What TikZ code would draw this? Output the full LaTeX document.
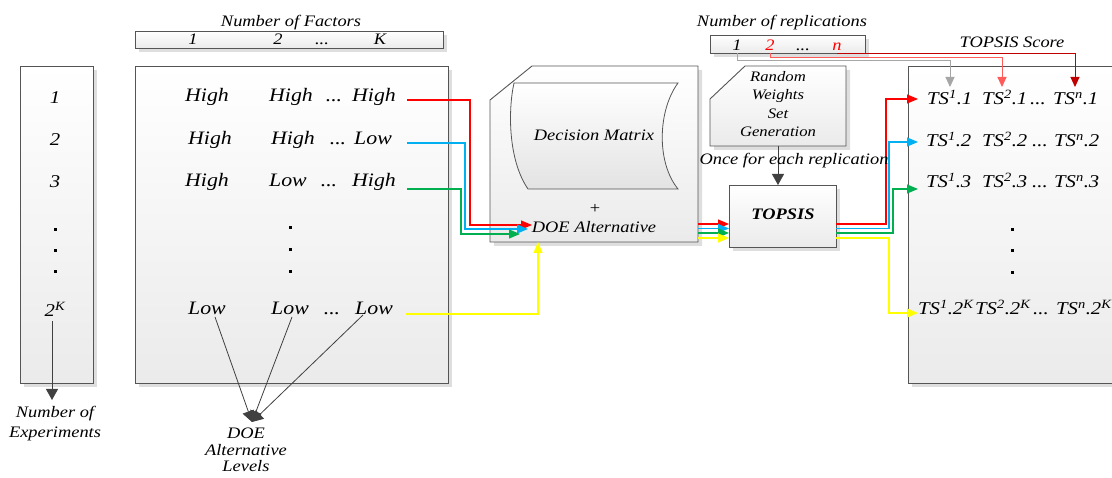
\documentclass[tikz,border=0pt]{standalone}
\usepackage{fontspec}
\setmainfont{Liberation Serif}[FakeStretch=1.15]
\usetikzlibrary{arrows.meta,shadows}
\definecolor{flowred}{HTML}{FF0000}
\definecolor{flowblue}{HTML}{00B0F0}
\definecolor{flowgreen}{HTML}{00B050}
\definecolor{flowyellow}{HTML}{FFFF00}
\definecolor{repone}{HTML}{A6A6A6}
\definecolor{reptwo}{HTML}{FF5B5B}
\definecolor{repn}{HTML}{C00000}
\definecolor{numred}{HTML}{FF0000}
\definecolor{edgegray}{HTML}{555555}
\definecolor{arrowgray}{HTML}{404040}

\newcommand\TSx[2]{TS\textsuperscript{#1}.#2}

\tikzset{
  panel/.style={draw=edgegray, line width=0.9pt, top color=white, bottom color=black!8,
    drop shadow={shadow xshift=4pt, shadow yshift=-4pt, fill=black!13, opacity=1}},
  frame/.style={inner sep=0pt, outer sep=0pt},
  txtA/.style={font=\fontsize{16}{19}\selectfont\itshape, inner sep=0pt},
  txtB/.style={font=\fontsize{19}{22}\selectfont\itshape, inner sep=0pt, anchor=base},
  txtC/.style={font=\fontsize{18}{21}\selectfont\itshape, inner sep=0pt, anchor=base west},
  txtD/.style={font=\fontsize{14.5}{18.5}\selectfont\itshape, inner sep=0pt, align=center},
  dotmark/.style={fill=black, inner sep=0pt, minimum size=3pt},
  flow/.style={line width=1.1pt, -{Triangle[length=11pt,width=9pt]}},
  reparrow/.style={line width=1pt, -{Triangle[length=10pt,width=9pt]}},
  darkarrow/.style={draw=arrowgray, line width=0.8pt, -{Triangle[length=11pt,width=12pt]}},
}

\begin{document}
\begin{tikzpicture}[x=1pt,y=-1pt]
\useasboundingbox (0,0) rectangle (1112,478);
\clip (0,0) rectangle (1112,478);

% ---------- panels ----------
\node[panel, frame, minimum width=73pt, minimum height=317pt] (expcol) at (56.5,224.5) {};
\node[panel, frame, minimum width=308pt, minimum height=17pt] (facthdr) at (289,39.5) {};
\node[panel, frame, minimum width=313pt, minimum height=317pt] (levels) at (291.5,224.5) {};

% decision matrix block with a cut corner
\node[frame, minimum width=208pt, minimum height=176pt] (dec) at (594,154) {};
\path[panel] (dec.south west) -- ([yshift=-34pt]dec.north west) -- ([xshift=42pt]dec.north west)
  -- (dec.north east) -- (dec.south east) -- cycle;
\path[draw=edgegray, line width=0.8pt, top color=white, bottom color=black!11]
  (514,83) -- (678,83) .. controls (658,110) and (656,162) .. (678,189)
  -- (528,189) .. controls (508,160) and (508,110) .. (514,83) -- cycle;

% random weights block with a cut corner
\node[frame, minimum width=136pt, minimum height=80pt] (rw) at (778,106) {};
\path[panel] (rw.south west) -- ([yshift=-33pt]rw.north west) -- ([xshift=35pt]rw.north west)
  -- (rw.north east) -- (rw.south east) -- cycle;

\node[panel, frame, minimum width=155pt, minimum height=18pt] (rephdr) at (787.5,44) {};
\node[panel, frame, minimum width=107pt, minimum height=62pt] (topsis) at (782.5,216) {};
\node[panel, frame, minimum width=220pt, minimum height=317pt] (scores) at (1018,224.5) {};

% ---------- texts ----------
\node[txtA, anchor=base] (facttitle) at (291,27) {Number of Factors};
\node[txtA, anchor=base] (f1) at (193,45) {1};
\node[txtA, anchor=base] (f2) at (278,45) {2};
\node[txtA, anchor=base] (fd) at (322,45) {...};
\node[txtA, anchor=base] (fk) at (380,45) {K};

\node[txtB, font=\fontsize{18}{21}\selectfont\itshape] (e1) at (55,104) {1};
\node[txtB, font=\fontsize{18}{21}\selectfont\itshape] (e2) at (55,146) {2};
\node[txtB, font=\fontsize{18}{21}\selectfont\itshape] (e3) at (55,188) {3};
\node[dotmark] (ed1) at (55,230) {};
\node[dotmark] (ed2) at (55,251) {};
\node[dotmark] (ed3) at (55,272) {};
\node[txtB, font=\fontsize{18}{21}\selectfont\itshape] (ek) at (55,317) {2\textsuperscript{K}};
\node[txtA, align=center, anchor=north, font=\fontsize{16}{20}\selectfont\itshape] (nexp) at (55,406) {Number of\\Experiments};

\node[txtB] (r1a) at (207,102) {High};
\node[txtB] (r1b) at (291,102) {High};
\node[txtB] (r1c) at (334,102) {...};
\node[txtB] (r1d) at (374,102) {High};
\node[txtB] (r2a) at (210,145) {High};
\node[txtB] (r2b) at (293,145) {High};
\node[txtB] (r2c) at (338,145) {...};
\node[txtB] (r2d) at (373,145) {Low};
\node[txtB] (r3a) at (207,187) {High};
\node[txtB] (r3b) at (288,187) {Low};
\node[txtB] (r3c) at (329,187) {...};
\node[txtB] (r3d) at (374,187) {High};
\node[dotmark] (ld1) at (290,228) {};
\node[dotmark] (ld2) at (290,250) {};
\node[dotmark] (ld3) at (290,272) {};
\node[txtB] (l1) at (207,315) {Low};
\node[txtB] (l2) at (290,315) {Low};
\node[txtB] (l3) at (332,315) {...};
\node[txtB] (l4) at (374,315) {Low};
\node[txtA, align=center, anchor=north, font=\fontsize{16}{16.5}\selectfont\itshape] (lvtext) at (246,428) {DOE\\Alternative\\Levels};

\node[txtA, anchor=base] (dm) at (594,141) {Decision Matrix};
\node[txtA, font=\fontsize{16}{19}\selectfont\upshape] (plus) at (595,209) {+};
\node[txtA, anchor=base] (doealt) at (594,233) {DOE Alternative};

\node[txtD, anchor=north] (rwtext) at (778,71) {Random\\Weights\\Set\\Generation};
\node[txtA, anchor=base] (reptitle) at (782,27) {Number of replications};
\node[txtA, anchor=base] (rp1) at (737,51) {1};
\node[txtA, anchor=base, text=numred] (rp2) at (770,51) {2};
\node[txtA, anchor=base] (rpd) at (803,51) {...};
\node[txtA, anchor=base, text=numred] (rpn) at (837,51) {n};

\node[txtA, anchor=base, font=\fontsize{16}{19}\selectfont\bfseries\itshape] (topsistxt) at (783,220) {TOPSIS};

\node[txtA, anchor=base] (tstitle) at (1012,48) {TOPSIS Score};
\node[txtC] (s11) at (927,105) {\TSx{1}{1}};
\node[txtC] (s21) at (982,105) {\TSx{2}{1}};
\node[txtC] (sd1) at (1030,105) {...};
\node[txtC] (sn1) at (1053,105) {\TSx{n}{1}};
\node[txtC] (s12) at (926,147) {\TSx{1}{2}};
\node[txtC] (s22) at (982,147) {\TSx{2}{2}};
\node[txtC] (sd2) at (1032,147) {...};
\node[txtC] (sn2) at (1054,147) {\TSx{n}{2}};
\node[txtC] (s13) at (926,188) {\TSx{1}{3}};
\node[txtC] (s23) at (982,188) {\TSx{2}{3}};
\node[txtC] (sd3) at (1032,188) {...};
\node[txtC] (sn3) at (1054,188) {\TSx{n}{3}};
\node[dotmark] (sdot1) at (1012,230) {};
\node[dotmark] (sdot2) at (1012,251) {};
\node[dotmark] (sdot3) at (1012,273) {};
\node[txtC] (s1k) at (918,315) {\TSx{1}{2\textsuperscript{K}}};
\node[txtC] (s2k) at (975,315) {\TSx{2}{2\textsuperscript{K}}};
\node[txtC] (sdk) at (1033,315) {...};
\node[txtC] (snk) at (1056,315) {\TSx{n}{2\textsuperscript{K}}};

% ---------- connector end points ----------
\coordinate (redin) at (532,225);
\coordinate (bluein) at (528,229);
\coordinate (greenin) at (520,234);
\coordinate (yellowin) at (538,242);
\coordinate (outred) at (918,99);
\coordinate (outblue) at (918,142);
\coordinate (outgreen) at (918,189);
\coordinate (outyellow) at (918,313);
\coordinate (ts1in) at (950,87);
\coordinate (ts2in) at (1002,87);
\coordinate (tsnin) at (1075,87);
\coordinate (expin) at (52,400);
\coordinate (lvin) at (252,422);

% ---------- connectors ----------
\draw[flow, flowred] ([xshift=11pt,yshift=2pt]r1d.base east) -| ([xshift=-62pt]redin) -- (redin);
\draw[flow, flowblue] ([xshift=15pt,yshift=2pt]r2d.base east) -| ([xshift=-63pt]bluein) -- (bluein);
\draw[flow, flowgreen] ([xshift=11pt,yshift=-2pt]r3d.base east) -| ([xshift=-59pt]greenin) -- (greenin);
\draw[flow, flowyellow] ([xshift=13pt,yshift=1pt]l4.base east) -| (yellowin);

\draw[flow, flowred] (dec.east |- 0,224) -- (topsis.west |- 0,224);
\draw[flow, flowblue] (dec.east |- 0,228.5) -- (topsis.west |- 0,228.5);
\draw[flow, flowgreen] (dec.east |- 0,233) -- (topsis.west |- 0,233);
\draw[flow, flowyellow] (dec.east |- 0,238) -- (topsis.west |- 0,238);

\draw[flow, flowred] (topsis.east |- 0,224) -| ([xshift=-32pt]outred) -- (outred);
\draw[flow, flowblue] (topsis.east |- 0,228.5) -| ([xshift=-29pt]outblue) -- (outblue);
\draw[flow, flowgreen] (topsis.east |- 0,233) -| ([xshift=-25pt]outgreen) -- (outgreen);
\draw[flow, flowyellow] (topsis.east |- 0,238) -| ([xshift=-29pt]outyellow) -- (outyellow);

\draw[reparrow, repone] (rp1 |- rephdr.south) -- (rp1 |- 0,61) -| (ts1in);
\draw[reparrow, reptwo] (rp2 |- rephdr.south) -- (rp2 |- 0,58) -| (ts2in);
\draw[reparrow, repn] (rpn |- 0,54) -| (tsnin);

\draw[darkarrow] (rw.south) -- (rw.south |- topsis.north);
\draw[darkarrow] ([yshift=-4pt]expin |- ek.south) -- (expin);
\draw[darkarrow] ([xshift=8pt,yshift=-2pt]l1.base) -- (lvin);
\draw[darkarrow] ([xshift=2pt,yshift=-2pt]l2.base) -- (lvin);
\draw[darkarrow] ([xshift=-11pt]l4.base) -- (lvin);

\node[txtA, anchor=base] (once) at (794,165) {Once for each replication};
\end{tikzpicture}
\end{document}
